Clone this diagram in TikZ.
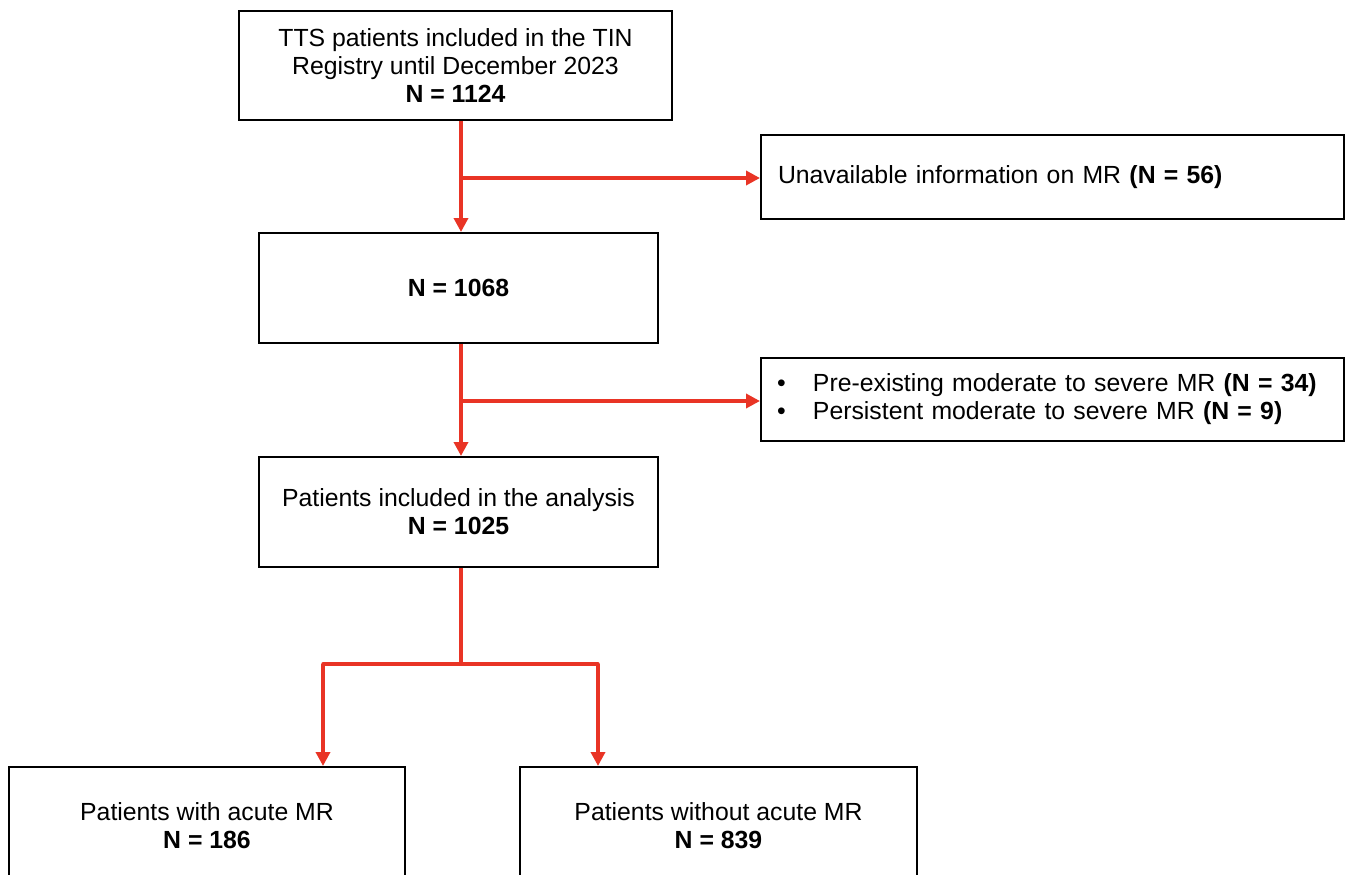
\documentclass[tikz,border=0pt]{standalone}
\usepackage{fontspec}
\setmainfont{Liberation Sans}
\usetikzlibrary{arrows.meta}
\definecolor{flowred}{RGB}{233,52,37}
\begin{document}
\begin{tikzpicture}[x=1pt,y=-1pt,
  box/.style={draw=black,line width=2pt,fill=white,inner sep=0pt,
    font=\fontsize{24.8}{28}\selectfont,align=center},
  lbox/.style={draw=black,line width=2pt,fill=white,inner ysep=0pt,
    font=\fontsize{24.8}{28}\selectfont,align=left},
  redline/.style={draw=flowred,line width=3.5pt},
  arr/.style={redline,-{Triangle[length=14pt,width=14pt]}}]
\useasboundingbox (0,0) rectangle (1350,875);
\clip (0,0) rectangle (1350,875);
\fill[white] (0,0) rectangle (1350,875);
% boxes
\node[box,minimum width=433pt,minimum height=109pt] (b1) at (455.5,65.5)
  {TTS patients included in the TIN\\Registry until December 2023\\\textbf{N = 1124}};
\node[lbox,anchor=west,inner xsep=17pt,text width=549pt,minimum height=84pt] (b3) at (760,177)
  {Unavailable information on MR \textbf{(N = 56)}};
\node[box,minimum width=399pt,minimum height=110pt] (b2) at (458.5,288)
  {\textbf{N = 1068}};
\node[lbox,anchor=west,inner xsep=16pt,text width=551pt,minimum height=83pt] (b5) at (760,399.5)
  {\makebox[36pt][l]{\textbullet}Pre-existing moderate to severe MR \textbf{(N = 34)}\\
   \makebox[36pt][l]{\textbullet}Persistent moderate to severe MR \textbf{(N = 9)}};
\node[box,minimum width=399pt,minimum height=110pt] (b4) at (458.5,512)
  {Patients included in the analysis\\\textbf{N = 1025}};
\node[box,minimum width=396pt,minimum height=118pt] (b6) at (207,826)
  {Patients with acute MR\\\textbf{N = 186}};
\node[box,minimum width=397pt,minimum height=118pt] (b7) at (718.5,826)
  {Patients without acute MR\\\textbf{N = 839}};
% junctions
\coordinate (j1) at (461,178);
\coordinate (j2) at (461,401);
\coordinate (j3) at (461,664);
\coordinate (jl) at (323,664);
\coordinate (jr) at (598,664);
% connectors
\draw[arr] (b1.south -| j1) -- (b2.north -| j1);
\draw[arr] (j1) -- (j1 -| b3.west);
\draw[arr] (b2.south -| j2) -- (b4.north -| j2);
\draw[arr] (j2) -- (j2 -| b5.west);
\draw[redline,line join=round] (b4.south -| j3) -- (j3);
\draw[redline,line cap=round] (jl) -- (jr);
\draw[arr] (jl) -- (b6.north -| jl);
\draw[arr] (jr) -- (b7.north -| jr);
\end{tikzpicture}
\end{document}
